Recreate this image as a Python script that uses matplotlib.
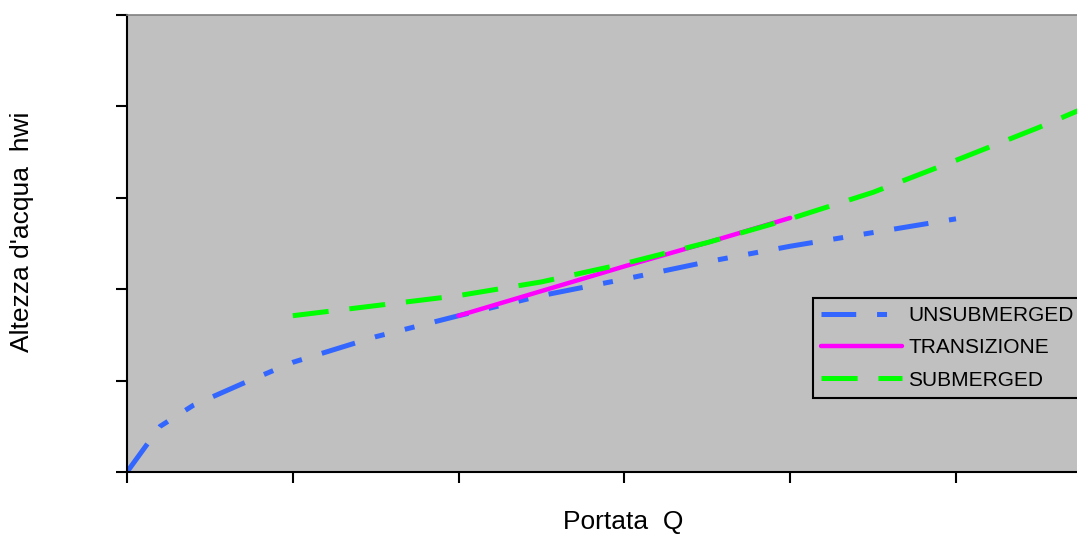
import matplotlib
matplotlib.use("Agg")
import matplotlib.pyplot as plt

plt.rcParams['font.family'] = ['Liberation Sans', 'DejaVu Sans']
plt.rcParams['lines.scale_dashes'] = False

# data
q_unsub = [0, 0.2, 0.4, 0.7, 1.0, 1.5, 2.0, 2.5, 3.0, 3.5, 4.0, 4.5, 5.0]
h_unsub = [0, 0.50, 0.73, 0.97, 1.20, 1.48, 1.71, 1.93, 2.11, 2.30, 2.47, 2.62, 2.77]
q_trans = [2.0, 2.5, 3.0, 3.5, 4.0]
h_trans = [1.71, 1.98, 2.25, 2.51, 2.78]
q_sub = [1.0, 1.5, 2.0, 2.5, 3.0, 3.5, 4.0, 4.5, 5.0, 5.5, 5.9]
h_sub = [1.71, 1.82, 1.93, 2.08, 2.28, 2.51, 2.77, 3.06, 3.41, 3.77, 4.08]
labels = ["UNSUBMERGED", "TRANSIZIONE", "SUBMERGED"]
x_ticks = [0, 1, 2, 3, 4, 5]
y_ticks = [0, 1, 2, 3, 4, 5]

W, H = 1077, 534
fig = plt.figure(figsize=(W / 100, H / 100), dpi=100)
ax = fig.add_axes([127 / W, (H - 472) / H, 973 / W, 457 / H])
ax.set_facecolor('#c0c0c0')
ax.set_xlim(0, 973 / 165.8)
ax.set_ylim(0, 5)

ax.plot(q_unsub, h_unsub, color='#3366ff', lw=3.6,
        linestyle=(0, (25, 15, 7.2, 15, 7.2, 15)), dash_capstyle='butt',
        label=labels[0])
ax.plot(q_trans, h_trans, color='#ff00ff', lw=3.2, solid_capstyle='round',
        label=labels[1])
ax.plot(q_sub, h_sub, color='#00ff00', lw=3.6,
        linestyle=(0, (26, 15)), dash_capstyle='butt', label=labels[2])

ax.set_xticks(x_ticks)
ax.set_yticks(y_ticks)
ax.tick_params(axis='both', direction='out', length=8, width=1.5,
               labelbottom=False, labelleft=False)
for s in ['left', 'bottom']:
    ax.spines[s].set_linewidth(1.5)
    ax.spines[s].set_color('black')
ax.spines['top'].set_color('#808080')
ax.spines['top'].set_linewidth(1.2)
ax.spines['right'].set_visible(False)

leg = ax.legend(loc='upper left', bbox_to_anchor=((813 - 127) / 973, (472 - 298) / 457),
                borderaxespad=0, fancybox=False, framealpha=1,
                facecolor='#c0c0c0', edgecolor='black', fontsize=15,
                handlelength=3.9, handletextpad=0.3, labelspacing=0.64,
                borderpad=0.38)
leg.get_frame().set_linewidth(1.5)

fig.text(623 / W, 1 - 522 / H, "Portata  Q", fontsize=19, ha='center', va='center')
fig.text(22 / W, 1 - 232 / H, "Altezza d'acqua  hwi", fontsize=19,
         ha='center', va='center', rotation=90)

fig.savefig("out.png", dpi=100)
